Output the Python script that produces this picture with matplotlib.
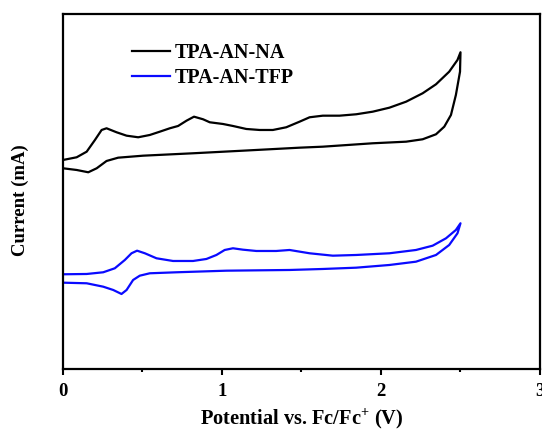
import numpy as np
import matplotlib
matplotlib.use('Agg')
import matplotlib.pyplot as plt
from matplotlib.ticker import MultipleLocator

# Данные ЦВА (потенциал, В; ток, усл. ед.)
na_fwd_v = [0.0, 0.086, 0.149, 0.201, 0.243, 0.274, 0.337, 0.400, 0.473, 0.546, 0.609,
            0.672, 0.724, 0.777, 0.824, 0.881, 0.923, 1.006, 1.069, 1.153, 1.237, 1.320,
            1.404, 1.488, 1.551, 1.634, 1.739, 1.844, 1.948, 2.053, 2.158, 2.262, 2.346,
            2.429, 2.481, 2.50]
na_fwd_i = [2.09, 2.117, 2.173, 2.29, 2.39, 2.407, 2.367, 2.333, 2.317, 2.34, 2.373,
            2.407, 2.43, 2.483, 2.523, 2.497, 2.467, 2.45, 2.43, 2.40, 2.39, 2.39,
            2.417, 2.473, 2.517, 2.533, 2.533, 2.547, 2.573, 2.613, 2.673, 2.757, 2.847,
            2.973, 3.09, 3.167]
na_rev_v = [2.50, 2.497, 2.471, 2.440, 2.398, 2.346, 2.262, 2.158, 1.948, 1.634, 1.488,
            1.132, 0.818, 0.504, 0.347, 0.274, 0.212, 0.159, 0.086, 0.0]
na_rev_i = [3.167, 2.973, 2.74, 2.54, 2.423, 2.347, 2.297, 2.273, 2.257, 2.223, 2.213,
            2.183, 2.157, 2.133, 2.113, 2.08, 2.007, 1.967, 1.99, 2.007]

tfp_fwd_v = [0.0, 0.149, 0.253, 0.326, 0.389, 0.431, 0.466, 0.515, 0.588, 0.692, 0.818,
             0.902, 0.965, 1.017, 1.069, 1.132, 1.216, 1.341, 1.425, 1.551, 1.697, 1.844,
             2.053, 2.220, 2.325, 2.409, 2.471, 2.50]
tfp_fwd_i = [0.947, 0.95, 0.967, 1.007, 1.09, 1.157, 1.183, 1.157, 1.107, 1.08, 1.08,
             1.10, 1.14, 1.19, 1.207, 1.193, 1.18, 1.18, 1.19, 1.157, 1.133, 1.14,
             1.157, 1.19, 1.233, 1.307, 1.39, 1.457]
tfp_rev_v = [2.50, 2.481, 2.429, 2.346, 2.220, 2.053, 1.844, 1.634, 1.425, 1.028, 0.714,
             0.546, 0.483, 0.441, 0.400, 0.368, 0.316, 0.253, 0.149, 0.0]
tfp_rev_i = [1.457, 1.357, 1.24, 1.14, 1.073, 1.04, 1.013, 1.0, 0.99, 0.983, 0.967,
             0.957, 0.933, 0.89, 0.79, 0.75, 0.79, 0.823, 0.857, 0.863]

plt.rcParams['font.family'] = ['Liberation Serif', 'DejaVu Serif']
plt.rcParams['font.weight'] = 'bold'
plt.rcParams['mathtext.fontset'] = 'custom'
plt.rcParams['mathtext.rm'] = 'Liberation Serif:bold'
plt.rcParams['mathtext.bf'] = 'Liberation Serif:bold'

fig = plt.figure(figsize=(5.42, 4.30), dpi=100)
ax = fig.add_axes([0.1162, 0.1419, 0.8801, 0.8256])

ax.plot(na_fwd_v + na_rev_v, na_fwd_i + na_rev_i, color='black', lw=1.6, label='TPA-AN-NA')
ax.plot(tfp_fwd_v + tfp_rev_v, tfp_fwd_i + tfp_rev_i, color='#0a0aff', lw=1.6, label='TPA-AN-TFP')

ax.set_xlim(0, 3)
ax.set_ylim(0, 3.55)
ax.xaxis.set_major_locator(MultipleLocator(1))
ax.xaxis.set_minor_locator(MultipleLocator(0.5))
ax.set_yticks([])
ax.tick_params(axis='x', which='major', direction='out', length=4, width=1.5, pad=6, labelsize=13.5)
ax.tick_params(axis='x', which='minor', direction='out', length=2.5, width=1.5)
for sp in ax.spines.values():
    sp.set_linewidth(1.6)

ax.set_xlabel(r'Potential vs. Fc/Fc$^{+}$ (V)', fontsize=14.7, fontweight='bold', labelpad=5)
ax.set_ylabel('Current (mA)', fontsize=13.5, fontweight='bold')
ax.yaxis.set_label_coords(-0.072, 0.476)

ax.legend(loc='upper left', bbox_to_anchor=(0.144, 0.918), frameon=False,
          prop={'size': 14.5, 'weight': 'bold'}, handlelength=1.9, handletextpad=0.25,
          labelspacing=0.25, borderpad=0, borderaxespad=0)

plt.savefig('out.png', dpi=100)
